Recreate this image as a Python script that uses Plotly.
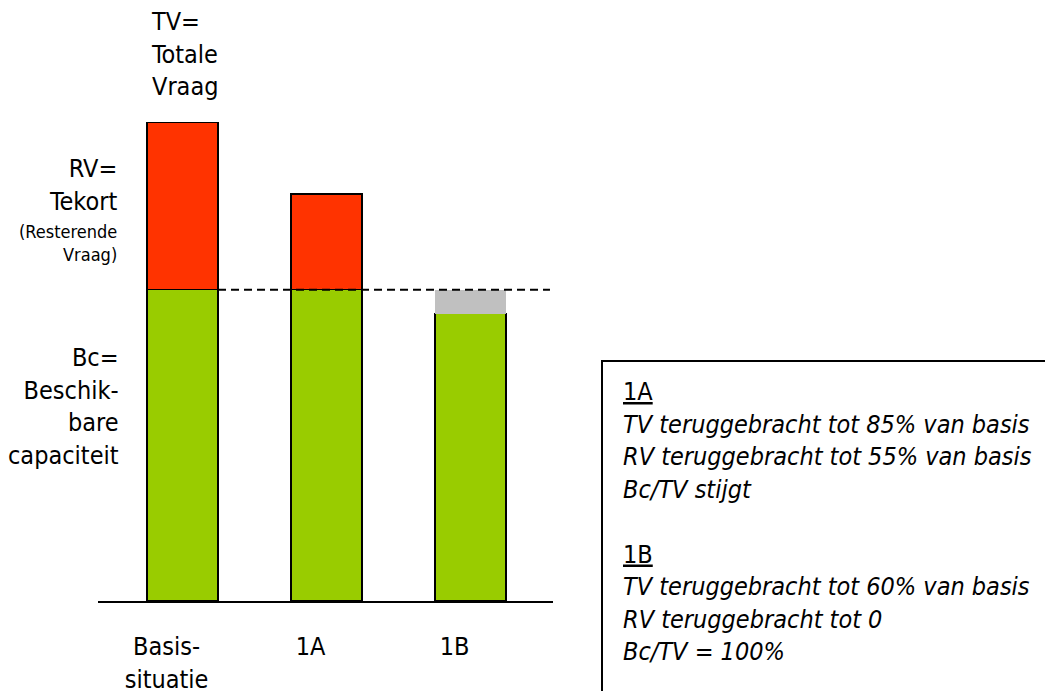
import plotly.graph_objects as go

categories = ["Basis-<br>situatie", "1A", "1B"]
bc_values = [65, 65, 60]          # Beschikbare capaciteit (green)
gap_values = [None, None, 5]      # grey part up to basis Bc
rv_values = [35, 20, None]        # Resterende vraag (red)

FONT = "Liberation Sans Narrow, DejaVu Sans Condensed, Arial Narrow, sans-serif"
GREEN = "#99CC00"
RED = "#FF3300"
GREY = "#C0C0C0"

x = list(range(len(categories)))
bar_w = 0.493

# helpers: screen pixel -> paper coords (plot area spans x 98..553, y 122..601 on screen)
def px(X):
    return (X - 98) / 455

def py(Y):
    return (601 - Y) / 479

fig = go.Figure()
fig.add_trace(go.Bar(x=x, y=bc_values, marker=dict(color=GREEN, line=dict(color="black", width=1.5)),
                     width=bar_w, showlegend=False, hoverinfo="skip"))
fig.add_trace(go.Bar(x=x, y=gap_values, marker=dict(color=GREY, line=dict(width=0)),
                     width=bar_w, showlegend=False, hoverinfo="skip"))
fig.add_trace(go.Bar(x=x, y=rv_values, marker=dict(color=RED, line=dict(color="black", width=1.5)),
                     width=bar_w, showlegend=False, hoverinfo="skip"))

# dashed reference line at basis capacity
fig.add_shape(type="line", xref="x", yref="y", x0=0 + bar_w / 2, x1=2.552,
              y0=bc_values[0], y1=bc_values[0], line=dict(color="black", width=2, dash="8px,5px"),
              layer="above")

# explanatory box (right and bottom edges lie outside the picture)
fig.add_shape(type="path", xref="paper", yref="paper",
              path=f"M {px(1060)},{py(361)} L {px(602)},{py(361)} L {px(602)},{py(700)}",
              line=dict(color="black", width=2), layer="above")

box_text = ("<u>1A</u><br>"
            "<i>TV teruggebracht tot 85% van basis</i><br>"
            "<i>RV teruggebracht tot 55% van basis</i><br>"
            "<i>Bc/TV stijgt</i><br>"
            " <br>"
            "<u>1B</u><br>"
            "<i>TV teruggebracht tot 60% van basis</i><br>"
            "<i>RV teruggebracht tot 0</i><br>"
            "<i>Bc/TV = 100%</i>")
fig.add_annotation(xref="paper", yref="paper", x=px(602), y=py(361), xanchor="left", yanchor="top",
                   xshift=19, yshift=-14, text=box_text, showarrow=False, align="left",
                   font=dict(family=FONT, size=25, color="black"))

# left side labels
fig.add_annotation(xref="paper", yref="paper", x=px(119), y=py(152),
                   xanchor="right", yanchor="top", text="RV=<br>Tekort", showarrow=False,
                   align="right", font=dict(family=FONT, size=25, color="black"))
fig.add_annotation(xref="paper", yref="paper", x=px(119), y=py(219),
                   xanchor="right", yanchor="top", text="(Resterende<br>Vraag)", showarrow=False,
                   align="right", font=dict(family=FONT, size=18, color="black"))
fig.add_annotation(xref="paper", yref="paper", x=px(121), y=py(341),
                   xanchor="right", yanchor="top", text="Bc=<br>Beschik-<br>bare<br>capaciteit",
                   showarrow=False, align="right", font=dict(family=FONT, size=25, color="black"))
fig.add_annotation(xref="paper", yref="paper", x=px(149), y=py(5),
                   xanchor="left", yanchor="top", text="TV=<br>Totale<br>Vraag",
                   showarrow=False, align="left", font=dict(family=FONT, size=25, color="black"))

fig.update_layout(
    width=1045, height=683,
    margin=dict(l=90, r=500, t=114, b=90, autoexpand=False),
    paper_bgcolor="white", plot_bgcolor="white",
    barmode="stack", bargap=0.507,
    xaxis=dict(range=[-0.587, 2.573], tickvals=x, ticktext=categories, showline=True,
               linecolor="black", linewidth=2, showgrid=False, zeroline=False, ticks="",
               ticklabelshift=-16, ticklabelstandoff=22,
               tickfont=dict(family=FONT, size=25, color="black")),
    yaxis=dict(range=[0, 100], visible=False, showgrid=False, zeroline=False),
)

fig.write_html("out.html")
